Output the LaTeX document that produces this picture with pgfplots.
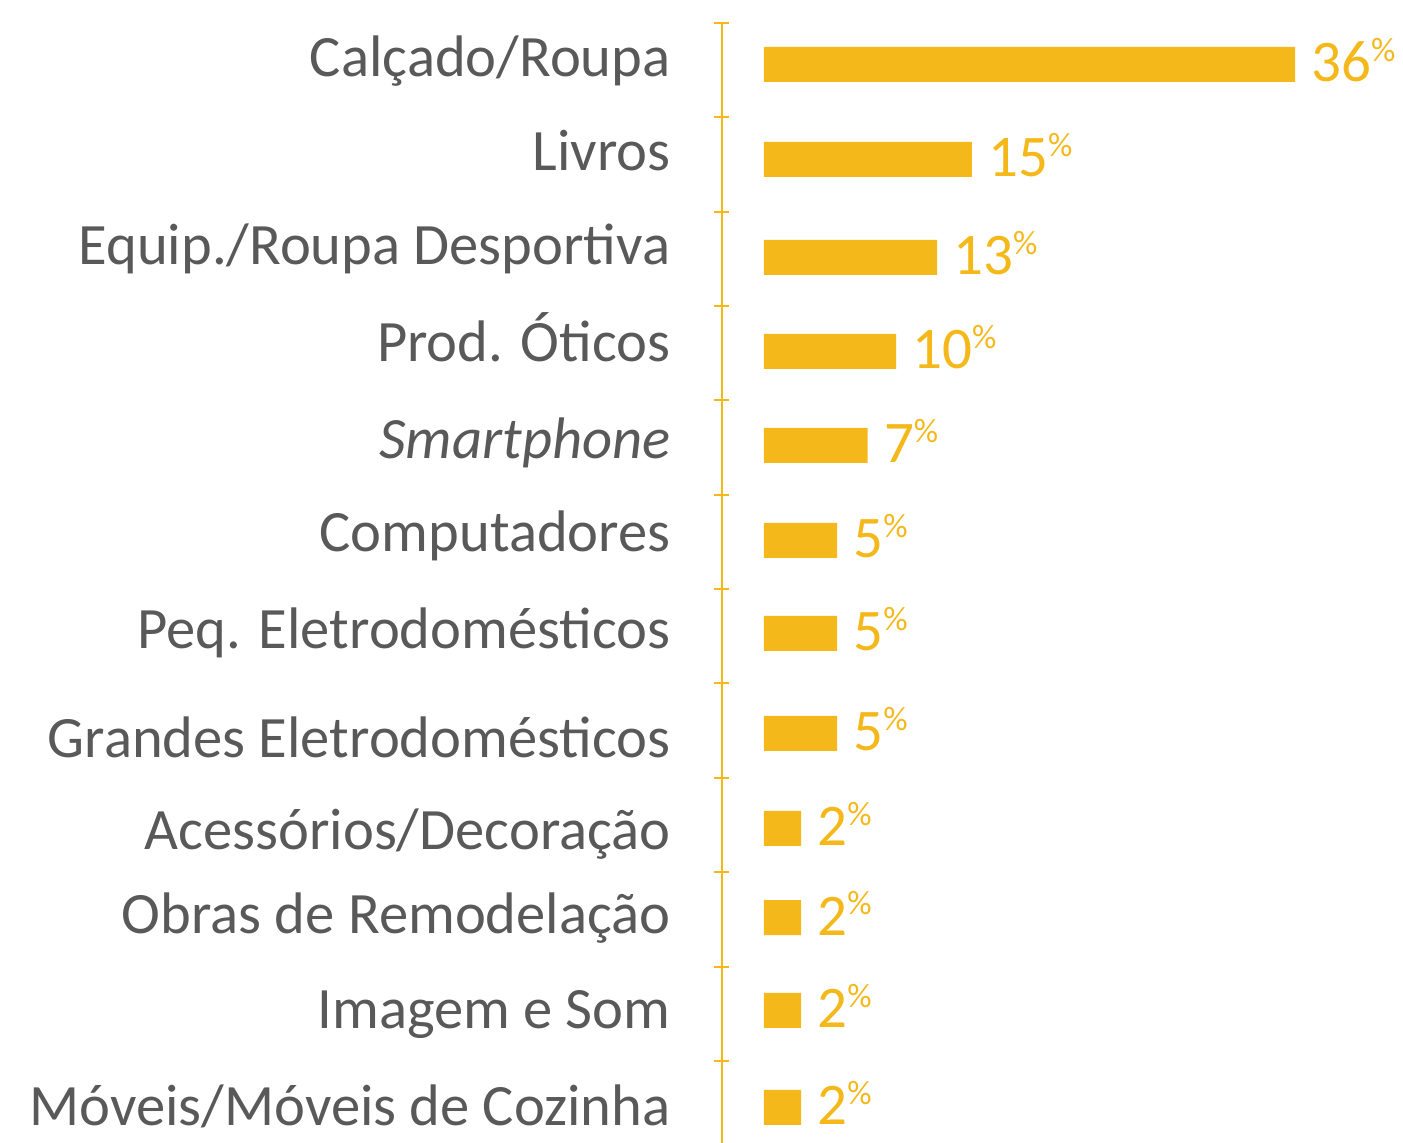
\documentclass[border=0pt]{standalone}
\usepackage{fontspec}
\setmainfont{Carlito}
\usepackage{pgfplots}
\pgfplotsset{compat=1.18}
\definecolor{barc}{HTML}{F5B81B}
\definecolor{labc}{HTML}{595959}
\begin{document}
\begin{tikzpicture}
\begin{axis}[
  at={(361pt,0pt)}, anchor=south west,
  scale only axis,
  width=340.5pt, height=560pt,
  xmin=-2.847, xmax=43.32,
  ymin=-0.3696, ymax=11.5,
  clip=false,
  xbar, bar width=17.5pt,
  axis x line=none,
  axis y line*=left,
  axis line style={draw=barc, line width=1pt},
  xtick=\empty,
  ytick={-0.179,0.846,1.853,2.736,3.718,4.874,5.897,6.880,7.911,8.936,9.932,10.929},
  yticklabels={Móveis/Móveis de Cozinha, Imagem e Som, Obras de Remodelação, Acessórios/Decoração, Grandes Eletrodomésticos, Peq. Eletrodomésticos, Computadores, {\itshape Smartphone}, Prod. Óticos, Equip./Roupa Desportiva, Livros, Calçado/Roupa},
  minor ytick={-0.5,0.5,...,11.5},
  tick align=center,
  major tick length=0pt,
  minor tick length=7.5pt,
  major tick style={draw=none},
  minor tick style={draw=barc, line width=1pt},
  yticklabel style={anchor=base east, inner sep=0pt, xshift=-25.5pt, text=labc, font=\fontsize{29.3}{29.3}\selectfont},
  point meta=explicit symbolic,
  nodes near coords={\pgfplotspointmeta\raisebox{10.3pt}{\fontsize{17}{17}\selectfont\%}},
  nodes near coords style={anchor=base west, inner sep=0pt, xshift=8pt, yshift=-8.75pt, text=barc, font=\fontsize{29.5}{29.5}\selectfont},
]
\addplot[fill=barc, draw=none] coordinates {
  (2.51,0.007) [2]
  (2.51,1.035) [2]
  (2.51,2.020) [2]
  (2.51,2.964) [2]
  (4.95,3.971) [5]
  (4.95,5.030) [5]
  (4.95,6.016) [5]
  (7.03,7.023) [7]
  (8.95,8.019) [10]
  (11.73,9.016) [13]
  (14.10,10.054) [15]
  (36.0,11.061) [36]
};
\end{axis}
\pgfresetboundingbox
\path[use as bounding box] (0,0) rectangle (701.5pt,571.5pt);
\end{tikzpicture}
\end{document}
